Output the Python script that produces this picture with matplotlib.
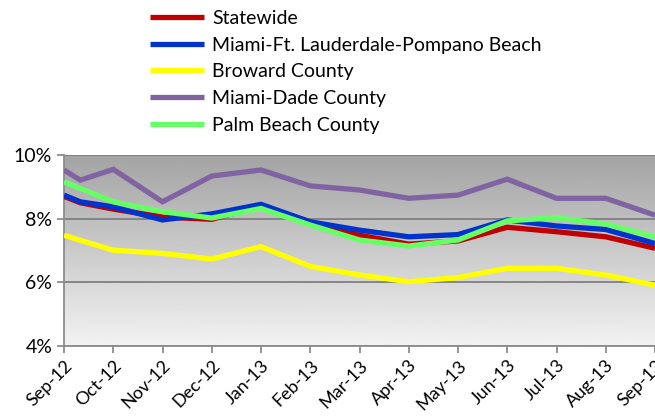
import matplotlib.pyplot as plt
import numpy as np
from matplotlib.ticker import FuncFormatter

# month positions (0 = Sep-12); 0.33 is an extra mid-September reading
month_pos = [0, 0.33, 1, 2, 3, 4, 5, 6, 7, 8, 9, 10, 11, 12]
month_labels = ["Sep-12", "Oct-12", "Nov-12", "Dec-12", "Jan-13", "Feb-13", "Mar-13",
                "Apr-13", "May-13", "Jun-13", "Jul-13", "Aug-13", "Sep-13"]

statewide = [8.7, 8.5, 8.3, 8.05, 7.98, 8.4, 7.9, 7.48, 7.2, 7.3, 7.73, 7.59, 7.43, 7.07]
miami_msa = [8.74, 8.53, 8.37, 7.96, 8.15, 8.45, 7.9, 7.64, 7.43, 7.5, 7.96, 7.77, 7.66, 7.22]
broward = [7.48, 7.32, 7.01, 6.91, 6.73, 7.12, 6.5, 6.23, 6.02, 6.15, 6.44, 6.44, 6.23, 5.91]
miami_dade = [9.53, 9.21, 9.55, 8.53, 9.34, 9.53, 9.03, 8.9, 8.64, 8.74, 9.24, 8.64, 8.64, 8.11]
palm_beach = [9.16, 8.95, 8.53, 8.22, 8.02, 8.32, 7.8, 7.33, 7.14, 7.33, 7.93, 8.03, 7.83, 7.43]

series = [
    ("Statewide", statewide, "#c00000"),
    ("Miami-Ft. Lauderdale-Pompano Beach", miami_msa, "#0033cc"),
    ("Broward County", broward, "#ffff00"),
    ("Miami-Dade County", miami_dade, "#8064a2"),
    ("Palm Beach County", palm_beach, "#66ff66"),
]

plt.rcParams['font.family'] = ['Lato', 'DejaVu Sans']

fig = plt.figure(figsize=(6.55, 4.18), dpi=100)
ax = fig.add_axes([64/655, 72/418, 591/655, 191/418])

# gray gradient background, light at bottom, dark at top
grad = np.linspace(0.95, 0.64, 256).reshape(-1, 1)
ax.imshow(grad, cmap="gray", vmin=0, vmax=1, aspect="auto", origin="lower",
          extent=[0, 12, 4, 10], zorder=0)

for name, vals, col in series:
    ax.plot(month_pos, vals, color=col, lw=3.8, label=name, zorder=3,
            solid_joinstyle="miter", solid_capstyle="butt")

ax.set_xlim(0, 12)
ax.set_ylim(4, 10)
ax.set_yticks([4, 6, 8, 10])
ax.yaxis.set_major_formatter(FuncFormatter(lambda v, p: f"{v:.0f}%"))
ax.set_xticks(range(13))
ax.set_xticklabels(month_labels, rotation=45, ha="right", rotation_mode="anchor")
ax.grid(axis="y", color="#7f7f7f", lw=1.3, zorder=1)

for s in ["top", "right"]:
    ax.spines[s].set_visible(False)
for s in ["left", "bottom"]:
    ax.spines[s].set_color("#8c8c8c")
    ax.spines[s].set_linewidth(1.3)
ax.tick_params(colors="#8c8c8c", labelcolor="black", labelsize=14, length=5, width=1.3)
ax.tick_params(axis="x", pad=3, labelsize=13)

fig.legend(loc="upper left", bbox_to_anchor=(142/655, 1 - 2/418), frameon=False,
           fontsize=14, handlelength=2.8, handletextpad=0.4, labelspacing=0.5,
           borderaxespad=0)

fig.savefig("out.png", dpi=100)
